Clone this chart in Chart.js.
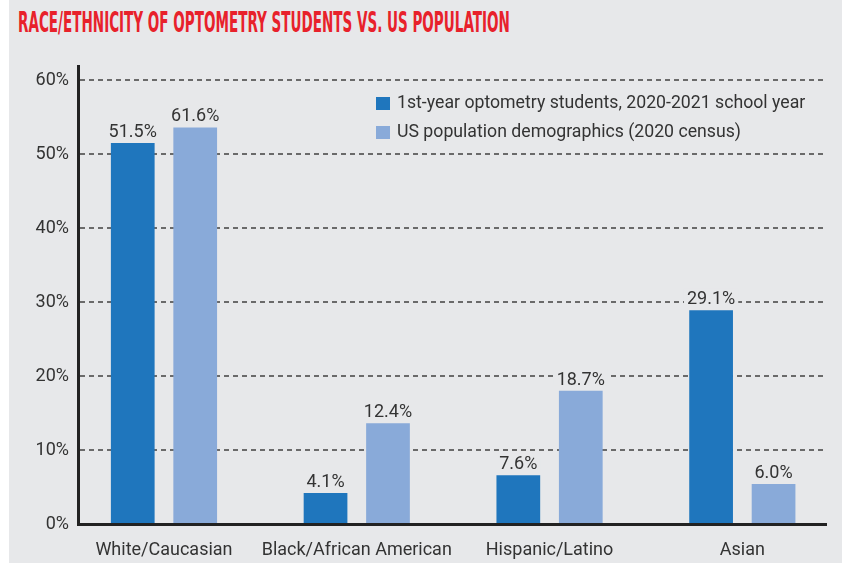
<!DOCTYPE html>
<html>
<head>
<meta charset="utf-8">
<script src="https://cdn.jsdelivr.net/npm/chart.js@4/dist/chart.umd.min.js"></script>
<style>
    html, body {
        margin: 0;
        padding: 0;
        background: #ffffff;
    }

    #fundo {
        position: absolute;
        left: 9px;
        top: 0;
        width: 833px;
        height: 563px;
        background: #e7e8ea;
    }

    #titulo {
        position: absolute;
        left: 18px;
        top: 9px;
        margin: 0;
        font-family: "Liberation Sans Narrow", "DejaVu Sans Condensed", sans-serif;
        font-weight: bold;
        font-size: 28px;
        line-height: 28px;
        color: #e8212b;
        white-space: nowrap;
        transform-origin: 0 0;
    }

    #caixa {
        position: absolute;
        left: 0;
        top: 0;
        width: 842px;
        height: 563px;
    }
</style>
</head>
<body>
<div id="fundo"></div>
<div id="titulo">RACE/ETHNICITY OF OPTOMETRY STUDENTS VS. US POPULATION</div>
<div id="caixa"><canvas id="etniaChart"></canvas></div>

<script>
const categorias = ["White/Caucasian", "Black/African American", "Hispanic/Latino", "Asian"];

// bar heights as drawn in the picture
const estudantes = [51.5, 4.2, 6.6, 28.9];
const censo = [53.6, 13.6, 18.0, 5.4];

// value labels as printed above the bars
const rotulosEstudantes = ["51.5%", "4.1%", "7.6%", "29.1%"];
const rotulosCenso = ["61.6%", "12.4%", "18.7%", "6.0%"];

const ticksY = [0, 10, 20, 30, 40, 50, 60];

const nomesSeries = [
    "1st-year optometry students, 2020-2021 school year",
    "US population demographics (2020 census)"
];

const corFundo = "#e7e8ea";

// squeeze the title to the condensed width of the original
const titulo = document.getElementById("titulo");
titulo.style.transform = "scaleX(" + (492 / titulo.scrollWidth) + ")";

const fonte = "Roboto, 'Noto Sans', sans-serif";

const rotulosPlugin = {
    id: "rotulos",
    afterDatasetsDraw(chart) {
        const ctx = chart.ctx;
        const textos = [rotulosEstudantes, rotulosCenso];

        ctx.save();
        ctx.font = "18px " + fonte;
        ctx.textAlign = "center";
        ctx.textBaseline = "alphabetic";

        chart.data.datasets.forEach((ds, d) => {
            chart.getDatasetMeta(d).data.forEach((barra, i) => {
                const texto = textos[d][i];
                const largura = ctx.measureText(texto).width;
                // the label hides the dashed grid line behind it
                ctx.fillStyle = corFundo;
                ctx.fillRect(barra.x - largura / 2 - 3, barra.y - 22, largura + 6, 17);
                ctx.fillStyle = "#333333";
                ctx.fillText(texto, barra.x, barra.y - 6);
            });
        });

        ctx.restore();
    }
};

const legendaPlugin = {
    id: "legenda",
    afterDraw(chart) {
        const ctx = chart.ctx;

        ctx.save();
        ctx.font = "17.7px " + fonte;
        ctx.textBaseline = "middle";
        ctx.textAlign = "left";

        chart.data.datasets.forEach((ds, d) => {
            const y = 104 + d * 29;
            ctx.fillStyle = ds.backgroundColor;
            ctx.fillRect(376, y - 7, 14, 13);
            ctx.fillStyle = "#333333";
            ctx.fillText(ds.label, 397, y);
        });

        ctx.restore();
    }
};

const ctx = document
    .getElementById("etniaChart")
    .getContext("2d");

new Chart(ctx, {
    type: "bar",

    data: {
        datasets: [{
            label: nomesSeries[0],
            data: estudantes.map((v, i) => ({ x: i, y: v })),
            backgroundColor: "#1f76bd",
            barPercentage: 0.7,
            categoryPercentage: 0.648
        }, {
            label: nomesSeries[1],
            data: censo.map((v, i) => ({ x: i, y: v })),
            backgroundColor: "#89aad9",
            barPercentage: 0.7,
            categoryPercentage: 0.648
        }]
    },

    options: {
        responsive: true,
        maintainAspectRatio: false,
        animation: false,

        layout: {
            padding: { top: 66, right: 16, left: 0, bottom: 0 }
        },

        plugins: {
            legend: { display: false },
            tooltip: { enabled: false }
        },

        scales: {
            x: {
                type: "linear",
                offset: false,
                min: -0.446,
                max: 3.434,
                afterBuildTicks: (escala) => {
                    escala.ticks = categorias.map((c, i) => ({ value: i }));
                },
                afterFit: (escala) => {
                    escala.height = 39;
                },
                ticks: {
                    callback: (valor) => categorias[valor],
                    color: "#333333",
                    font: { family: fonte, size: 18 },
                    padding: 16,
                    maxRotation: 0,
                    autoSkip: false
                },
                grid: {
                    display: false,
                    drawTicks: false
                },
                border: {
                    display: true,
                    color: "#222222",
                    width: 3
                }
            },

            y: {
                min: 0,
                max: 61.9,
                afterBuildTicks: (escala) => {
                    escala.ticks = ticksY.map(v => ({ value: v }));
                },
                afterFit: (escala) => {
                    escala.width = 78;
                },
                ticks: {
                    callback: (valor) => valor + "%",
                    color: "#333333",
                    font: { family: fonte, size: 18 },
                    padding: 9
                },
                grid: {
                    drawTicks: false,
                    lineWidth: 2,
                    color: (c) => c.tick && c.tick.value === 0 ? "rgba(0,0,0,0)" : "#6a6a6a"
                },
                border: {
                    display: true,
                    color: "#222222",
                    width: 3,
                    dash: [5, 4]
                }
            }
        }
    },

    plugins: [rotulosPlugin, legendaPlugin]
});
</script>
</body>
</html>
